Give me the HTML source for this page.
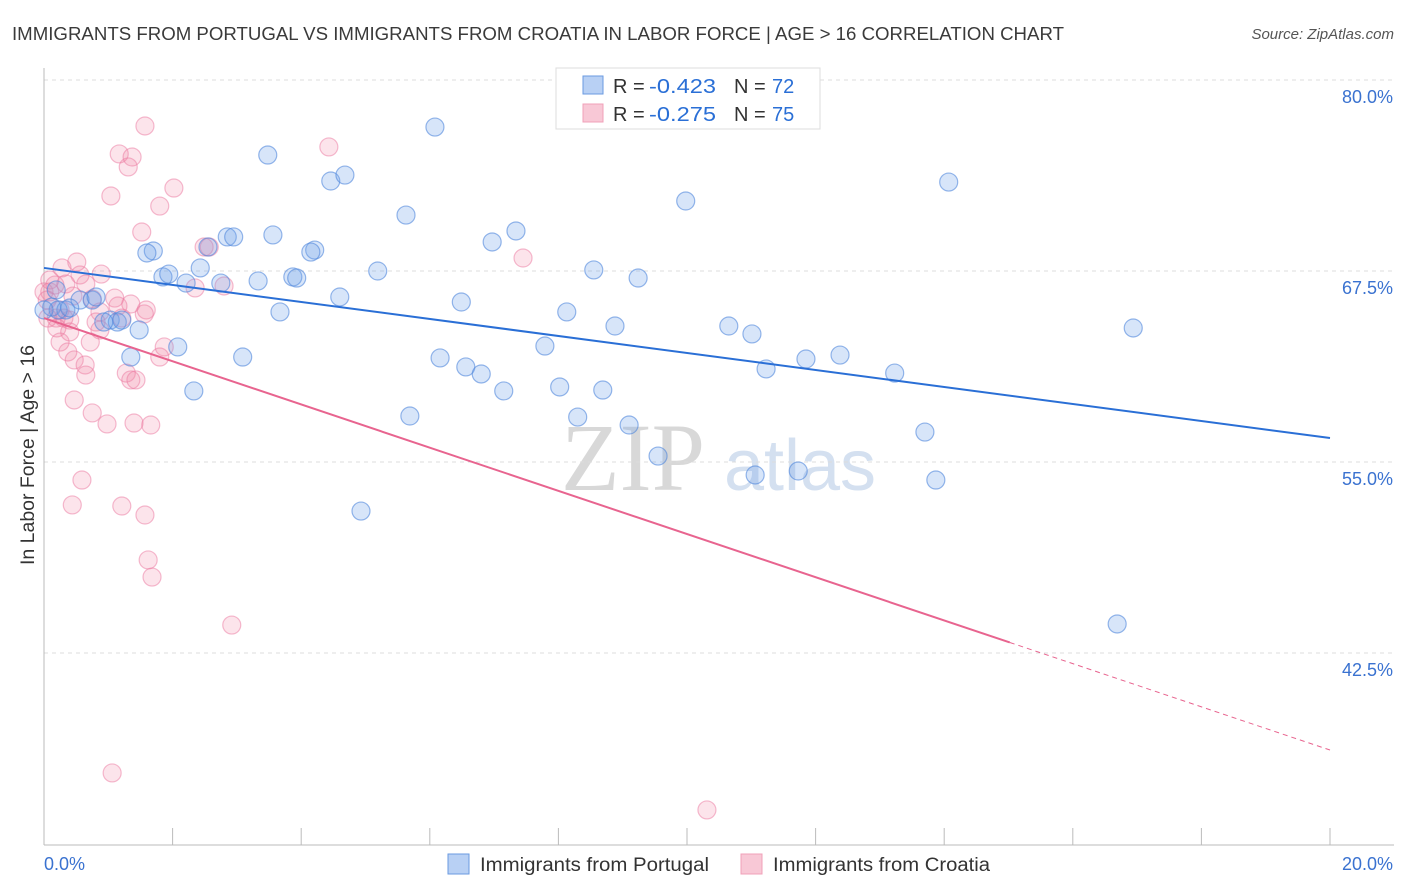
<!DOCTYPE html>
<html><head><meta charset="utf-8"><style>
body{margin:0;background:#fff;font-family:"Liberation Sans",sans-serif}
svg{display:block}
</style></head><body>
<svg id="chart" width="1406" height="892" xmlns="http://www.w3.org/2000/svg">
<text x="12" y="40" font-size="18" fill="#3a3a3a" textLength="1052" lengthAdjust="spacingAndGlyphs">IMMIGRANTS FROM PORTUGAL VS IMMIGRANTS FROM CROATIA IN LABOR FORCE | AGE &gt; 16 CORRELATION CHART</text>
<text x="1394" y="39" font-size="15" fill="#555" font-style="italic" text-anchor="end">Source: ZipAtlas.com</text>
<g><text x="633" y="490" font-size="96" fill="#d8d8d8" font-family="Liberation Serif,serif" text-anchor="middle">ZIP</text><text x="800" y="490" font-size="72" fill="#d4e0f0" text-anchor="middle">atlas</text></g>
<g id="grid"></g><g id="axes"></g><g id="pts"></g><g id="trend"></g>
<text transform="translate(34,455) rotate(-90)" font-size="19" fill="#333" text-anchor="middle" textLength="220" lengthAdjust="spacingAndGlyphs">In Labor Force | Age &gt; 16</text>
<g>
<rect x="556" y="68" width="264" height="61" fill="#fff" stroke="#ddd"/>
<rect x="583" y="76" width="20" height="18" fill="#b8d0f4" stroke="#6a9ae0"/>
<rect x="583" y="104" width="20" height="18" fill="#f8c8d6" stroke="#f0a0b8"/>
<text x="613" y="93" font-size="20" fill="#333">R = <tspan fill="#2a6fd6" x="649" textLength="67" lengthAdjust="spacingAndGlyphs">-0.423</tspan><tspan x="734">N = </tspan><tspan fill="#2a6fd6" x="772">72</tspan></text>
<text x="613" y="121" font-size="20" fill="#333">R = <tspan fill="#2a6fd6" x="649" textLength="67" lengthAdjust="spacingAndGlyphs">-0.275</tspan><tspan x="734">N = </tspan><tspan fill="#2a6fd6" x="772">75</tspan></text>
</g>
<g>
<rect x="448" y="854" width="21" height="20" fill="#b8d0f4" stroke="#6a9ae0"/>
<text x="480" y="871" font-size="19" fill="#333" textLength="229" lengthAdjust="spacingAndGlyphs">Immigrants from Portugal</text>
<rect x="741" y="854" width="21" height="20" fill="#f8c8d6" stroke="#f0a0b8"/>
<text x="773" y="871" font-size="19" fill="#333" textLength="217" lengthAdjust="spacingAndGlyphs">Immigrants from Croatia</text>
</g>
</svg>
<script>
const yTicks=[80,67.5,55,42.5];
const xTickVals=[0,2,4,6,8,10,12,14,16,18,20];
const blueX=[6.08,3.48,4.46,4.68,14.07,9.98,5.63,7.34,6.97,3.56,2.85,2.95,1.70,1.60,4.21,4.15,2.55,5.19,8.55,9.24,1.85,1.94,2.43,2.21,2.75,3.33,3.87,3.93,4.60,6.49,3.67,8.13,8.88,10.65,11.01,16.94,2.08,1.35,3.09,6.16,7.79,6.56,6.80,11.85,12.38,11.23,13.23,7.15,8.02,8.69,2.33,5.69,8.30,9.10,13.70,9.55,11.06,11.73,13.87,4.93,16.69,1.48,0.12,0.19,0.34,0.56,0.75,0.81,1.03,1.14,1.21,0.22,0,0.93,0.40];
const blueY=[76.92,75.09,73.39,73.78,73.32,72.08,71.16,70.12,69.40,69.86,69.73,69.73,68.81,68.68,68.87,68.74,69.07,67.5,67.57,67.04,67.11,67.30,67.70,66.71,66.71,66.85,67.11,67.04,65.80,65.47,64.82,64.82,63.90,63.90,63.38,63.77,62.53,61.87,61.87,61.81,62.59,61.22,60.76,61.74,62.00,61.09,60.82,59.65,59.91,59.71,59.65,58.01,57.94,57.42,56.96,55.39,54.15,54.41,53.82,51.79,44.40,63.64,65.14,66.26,64.95,65.60,65.60,65.80,64.29,64.16,64.29,64.95,64.95,64.16,65.08];
const pinkX=[1.57,4.43,1.17,1.37,1.31,2.02,1.04,1.80,1.52,2.49,2.57,7.45,0.51,0.28,0.56,0.89,0.09,0.34,0.65,2.35,2.80,0,0.09,0.05,0.45,0.75,1.10,1.35,1.59,1.15,0.87,1.56,0.19,0.31,0.40,0.81,1.21,0.87,0.20,0.40,0.72,0.25,0.37,1.87,1.80,0.47,0.64,0.65,1.28,1.35,1.43,0.47,0.75,0.98,1.40,1.66,0.59,0.44,1.21,1.57,1.62,1.68,2.92,1.06,10.31,0.17,0.25,0.06];
const pinkY=[76.99,75.62,75.16,74.96,74.31,72.93,72.41,71.75,70.05,69.07,69.07,68.35,68.09,67.70,67.24,67.30,66.91,66.65,66.65,66.39,66.52,66.13,66.13,65.60,65.86,65.67,65.73,65.34,64.95,65.21,64.82,64.69,64.42,64.42,64.29,64.16,64.42,63.64,63.77,63.51,62.85,62.85,62.20,62.53,61.87,61.68,61.35,60.69,60.82,60.37,60.37,59.06,58.21,57.49,57.55,57.42,53.82,52.19,52.12,51.53,48.59,47.47,44.33,34.65,32.23,66.58,64.95,64.42];
const blueTrend=[67.70,56.57];
const pinkTrend=[64.42,36.15];
const pinkSolidEnd=15.02;
const NS="http://www.w3.org/2000/svg";
const sx=v=>44+v*64.3, sy=v=>80+(80-v)*15.28;
function mk(t,a,p){const e=document.createElementNS(NS,t);for(const k in a)e.setAttribute(k,a[k]);p.appendChild(e);return e;}
const grid=document.getElementById('grid'),axes=document.getElementById('axes'),pts=document.getElementById('pts'),tr=document.getElementById('trend');
yTicks.forEach(v=>{
 const l=mk('line',{x1:44,x2:1394,y1:sy(v),y2:sy(v),stroke:'#ddd','stroke-dasharray':'4,4'},grid);
 
 
 const t=mk('text',{x:1393,y:sy(v)+23,'font-size':18,fill:'#3a72d0','text-anchor':'end'},grid);
 t.textContent=v.toFixed(1)+'%';
 
 
});
const ya=mk('line',{x1:44,x2:44,y1:68,y2:845,stroke:'#bbb'},axes);


const xa=mk('line',{x1:44,x2:1394,y1:845,y2:845,stroke:'#bbb'},axes);


xTickVals.forEach(v=>{
 const l=mk('line',{x1:sx(v),x2:sx(v),y1:828,y2:845,stroke:'#bbb'},axes);
 
 
});
const xl0=mk('text',{x:44,y:870,'font-size':18,fill:'#3a72d0'},axes);xl0.textContent='0.0%';


const xl1=mk('text',{x:1393,y:870,'font-size':18,fill:'#3a72d0','text-anchor':'end'},axes);xl1.textContent='20.0%';


pinkX.forEach((x,i)=>{
 const c=mk('circle',{cx:sx(x),cy:sy(pinkY[i]),r:9,fill:'rgba(240,130,165,0.22)',stroke:'rgba(235,120,160,0.5)','stroke-width':1.2},pts);
 
 
});
blueX.forEach((x,i)=>{
 const c=mk('circle',{cx:sx(x),cy:sy(blueY[i]),r:9,fill:'rgba(110,160,235,0.28)',stroke:'rgba(80,135,220,0.6)','stroke-width':1.2},pts);
 
 
});
const bl=mk('line',{x1:sx(0),y1:sy(blueTrend[0]),x2:sx(20),y2:sy(blueTrend[1]),stroke:'#2a6fd6','stroke-width':2},tr);


const pe=pinkTrend[0]+(pinkTrend[1]-pinkTrend[0])*pinkSolidEnd/20;
const pl=mk('line',{x1:sx(0),y1:sy(pinkTrend[0]),x2:sx(pinkSolidEnd),y2:sy(pe),stroke:'#e8648f','stroke-width':2},tr);


const pd=mk('line',{x1:sx(pinkSolidEnd),y1:sy(pe),x2:sx(20),y2:sy(pinkTrend[1]),stroke:'#e8648f','stroke-width':1,'stroke-dasharray':'5,4'},tr);


</script>
</body></html>
